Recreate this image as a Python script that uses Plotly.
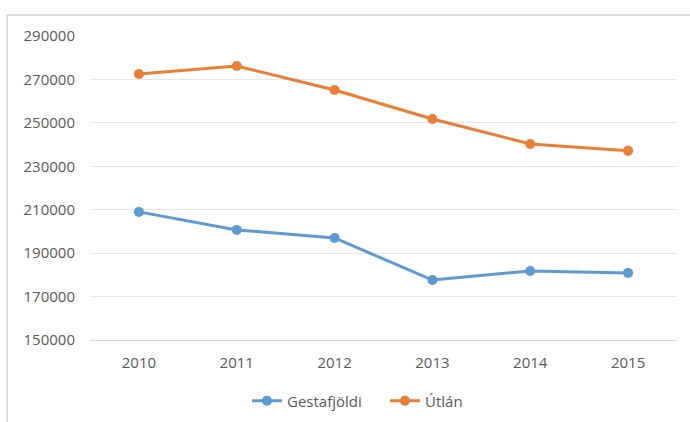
import plotly.graph_objects as go

years = ["2010", "2011", "2012", "2013", "2014", "2015"]
gestafjoldi = [209000, 200700, 197000, 177600, 181800, 180900]
utlan = [272500, 276200, 265100, 251800, 240300, 237100]
y_ticks = [150000, 170000, 190000, 210000, 230000, 250000, 270000, 290000]

fig = go.Figure()
fig.add_trace(go.Scatter(x=years, y=gestafjoldi, name="Gestafjöldi", mode="lines+markers",
                         line=dict(color="#5B9BD5", width=3), marker=dict(size=10, color="#5B9BD5")))
fig.add_trace(go.Scatter(x=years, y=utlan, name="Útlán", mode="lines+markers",
                         line=dict(color="#ED7D31", width=3), marker=dict(size=10, color="#ED7D31")))

L, R, T, B = 90, 13, 36, 82
W, H = 690, 422
pw, ph = W - L - R, H - T - B

fig.update_layout(
    width=W, height=H,
    margin=dict(l=L, r=R, t=T, b=B, autoexpand=False),
    paper_bgcolor="white", plot_bgcolor="white",
    font=dict(family="Open Sans", size=15, color="#595959"),
    showlegend=True,
    legend=dict(orientation="h", x=(247 - L) / pw, xanchor="left", y=-(401 - 340) / ph, yanchor="middle",
                font=dict(size=15, color="#595959"), itemwidth=30, entrywidth=93,
                entrywidthmode="pixels"),
    xaxis=dict(showgrid=False, showline=True, linecolor="#D9D9D9", linewidth=1, range=[-0.5, 5.5],
               ticks="", ticklabelstandoff=9, fixedrange=True),
    yaxis=dict(range=[150000, 290000], tickvals=y_ticks, showgrid=True, gridcolor="#E6E6E6",
               gridwidth=1, zeroline=False, showline=False, ticks="", ticklabelstandoff=14,
               tickformat="d"),
    shapes=[
        dict(type="line", xref="paper", yref="paper", x0=(7 - L) / pw, x1=(7 - L) / pw,
             y0=1 + (T - 15) / ph, y1=-(H - T - ph) / ph - 0.01, line=dict(color="#D0D0D0", width=1.5)),
        dict(type="line", xref="paper", yref="paper", x0=(7 - L) / pw, x1=1 + R / pw + 0.01,
             y0=1 + (T - 15) / ph, y1=1 + (T - 15) / ph, line=dict(color="#D0D0D0", width=1.5)),
    ],
)

fig.write_html("out.html", config={"displayModeBar": False},
               post_script="document.body.style.margin='0';document.body.style.overflow='hidden';")
